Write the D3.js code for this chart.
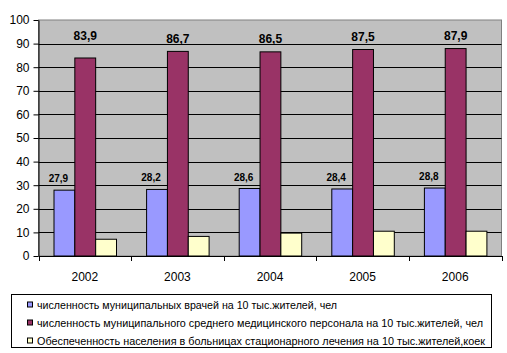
<!DOCTYPE html>
<html>
<head>
<meta charset="utf-8">
<script src="https://cdn.jsdelivr.net/npm/d3@7"></script>
<style>
  body { margin: 0; background: #fff; }
  text { font-family: "Liberation Sans", Arial, sans-serif; fill: #000; }
</style>
</head>
<body>
<div id="canvas"></div>
<script>
// DATA
const years = ["2002", "2003", "2004", "2005", "2006"];
const doctors = [27.9, 28.2, 28.6, 28.4, 28.8];
const nurses = [83.9, 86.7, 86.5, 87.5, 87.9];
const beds = [7.1, 8.3, 9.7, 10.5, 10.5];
const seriesNames = [
  "численность муниципальных врачей на 10 тыс.жителей, чел",
  "численность  муниципального среднего медицинского персонала на 10 тыс.жителей, чел",
  "Обеспеченность населения  в больницах стационарного лечения на 10 тыс.жителей,коек"
];
const yTicks = [0, 10, 20, 30, 40, 50, 60, 70, 80, 90, 100];

// DIMENSIONS
const width = 507;
const height = 353;
const plot = { left: 38.5, right: 501.5, top: 20, bottom: 256 };

const colors = ["#9999FF", "#993366", "#FFFFCC"];
const series = [doctors, nurses, beds];

// CANVAS
const svg = d3.select("#canvas").append("svg")
  .attr("width", width)
  .attr("height", height);

// SCALES
const x = d3.scaleBand(years, [plot.left, plot.right]);
const xSub = d3.scaleBand([0, 1, 2], [15.5, 78]);
const y = d3.scaleLinear().domain([0, 100]).range([plot.bottom, plot.top]);

// PLOT AREA
svg.append("rect")
  .attr("x", plot.left).attr("y", plot.top)
  .attr("width", plot.right - plot.left)
  .attr("height", plot.bottom - plot.top)
  .attr("fill", "#C0C0C0")
  .attr("stroke", "#808080");

// GRIDLINES
svg.append("g").selectAll("line")
  .data(yTicks.filter(d => d > 0 && d < 100))
  .join("line")
  .attr("x1", plot.left).attr("x2", plot.right)
  .attr("y1", d => Math.round(y(d)) + 0.5)
  .attr("y2", d => Math.round(y(d)) + 0.5)
  .attr("stroke", "#000");

// BARS
series.forEach((vals, s) => {
  svg.append("g").selectAll("rect")
    .data(vals)
    .join("rect")
    .attr("x", (d, i) => x(years[i]) + xSub(s))
    .attr("y", d => y(d))
    .attr("width", xSub.bandwidth())
    .attr("height", d => y(0) - y(d))
    .attr("fill", colors[s])
    .attr("stroke", "#000")
    .attr("stroke-width", 1);
});

// VALUE LABELS
const fmt = v => d3.format(".1f")(v).replace(".", ",");
const labelNudge = { "2002": 9 };

svg.append("g").selectAll("text")
  .data(nurses)
  .join("text")
  .attr("x", (d, i) => x(years[i]) + xSub(1) + xSub.bandwidth() / 2)
  .attr("y", (d, i) => y(d) - 8.5 - (labelNudge[years[i]] || 0))
  .attr("text-anchor", "middle")
  .attr("font-size", 12)
  .attr("font-weight", "bold")
  .attr("fill", "#000")
  .text(fmt);

svg.append("g").selectAll("text")
  .data(doctors)
  .join("text")
  .attr("x", (d, i) => x(years[i]) + xSub(0) + xSub.bandwidth() / 2 - 6)
  .attr("y", d => y(d) - 8)
  .attr("text-anchor", "middle")
  .attr("font-size", 10)
  .attr("font-weight", "bold")
  .text(fmt);

// AXES
const yAxis = svg.append("g")
  .attr("transform", `translate(${plot.left},0)`)
  .call(d3.axisLeft(y).tickValues(yTicks).tickSize(5).tickPadding(4).tickSizeOuter(0));
yAxis.select(".domain").attr("stroke", "#000");
yAxis.selectAll("text").attr("font-size", 12).attr("font-family", "Liberation Sans, Arial, sans-serif");

const xAxis = svg.append("g")
  .attr("transform", `translate(0,${plot.bottom})`)
  .call(d3.axisBottom(x).tickSize(0).tickPadding(16).tickSizeOuter(0));
xAxis.select(".domain").attr("stroke", "#000");
xAxis.selectAll("text").attr("font-size", 12).attr("font-family", "Liberation Sans, Arial, sans-serif");

// category boundary ticks
svg.append("g").selectAll("line")
  .data(years.map(yr => x(yr)).concat([plot.right]))
  .join("line")
  .attr("x1", d => Math.round(d) + 0.5).attr("x2", d => Math.round(d) + 0.5)
  .attr("y1", plot.bottom).attr("y2", plot.bottom + 5)
  .attr("stroke", "#000");

// LEGEND
const legend = svg.append("g");
legend.append("rect")
  .attr("x", 11.5).attr("y", 294.5)
  .attr("width", 480).attr("height", 53)
  .attr("fill", "#fff")
  .attr("stroke", "#000");

const rowY = d3.scalePoint([0, 1, 2], [304.5, 340.5]);
const textLens = [300, 446, 448];

legend.selectAll("rect.key")
  .data(seriesNames)
  .join("rect")
  .attr("class", "key")
  .attr("x", 27.5)
  .attr("y", (d, i) => rowY(i) - 2.5)
  .attr("width", 5).attr("height", 5)
  .attr("fill", (d, i) => colors[i])
  .attr("stroke", "#000");

legend.selectAll("text")
  .data(seriesNames)
  .join("text")
  .attr("x", 37)
  .attr("y", (d, i) => rowY(i) + 4)
  .attr("font-size", 11)
  .attr("textLength", (d, i) => textLens[i])
  .attr("lengthAdjust", "spacingAndGlyphs")
  .text(d => d);
</script>
</body>
</html>
